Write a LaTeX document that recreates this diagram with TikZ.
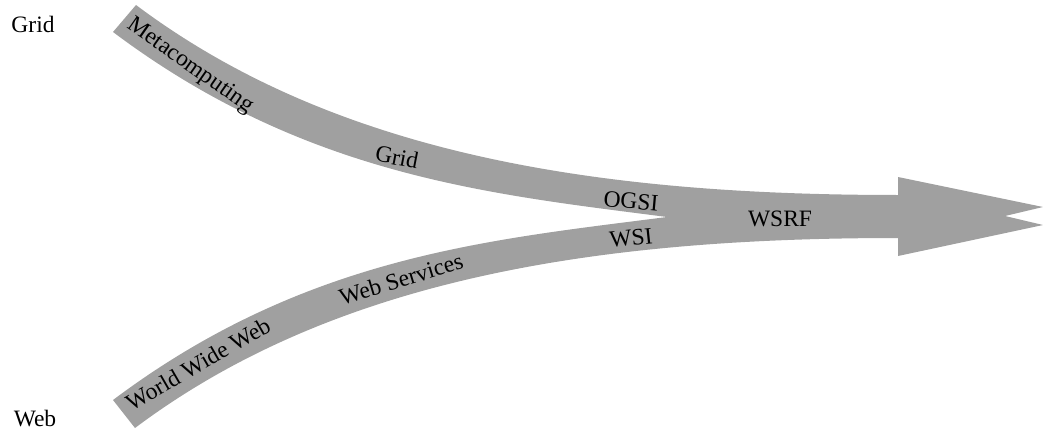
\documentclass[tikz,border=0pt]{standalone}
\usepackage{fontspec}
\setmainfont{Liberation Serif}
\definecolor{bandgray}{RGB}{160,160,160}
\begin{document}
\begin{tikzpicture}[x=1pt,y=-1pt,
  band/.style={fill=bandgray},
  lbl/.style={inner sep=0pt,font=\fontsize{23.5}{28}\selectfont}]
\useasboundingbox (0,0) rectangle (1043,433);
\coordinate (ut0) at (136,5);
\coordinate (ub0) at (113,32);
\coordinate (lt0) at (113,400);
\coordinate (lb0) at (135,428);
\coordinate (notch) at (667,217);
\coordinate (baseT) at (898,195);
\coordinate (baseB) at (898,238);
\fill[band] (ut0) .. controls (336,155) and (598,195) .. (baseT)
  -- (898,177) -- (1043,207) -- (1005,216) -- (1043,225) -- (898,256) -- (baseB)
  .. controls (598,238) and (335,278) .. (lb0)
  -- (lt0)
  .. controls (305,256) and (488,240) .. (notch)
  .. controls (489,194) and (305,176) .. (ub0)
  -- cycle;
\node[lbl] (gridlabel) at (33,24) {Grid};
\node[lbl] (weblabel) at (35,419) {Web};
\node[lbl,rotate=-35] (meta) at (190,66) {Metacomputing};
\node[lbl,rotate=-11] (grid) at (397,157) {Grid};
\node[lbl,rotate=-5] (ogsi) at (631,201) {OGSI};
\node[lbl,rotate=6] (wsi) at (631,238) {WSI};
\node[lbl] (wsrf) at (780,219) {WSRF};
\node[lbl,rotate=17] (ws) at (401,279) {Web Services};
\node[lbl,rotate=30] (www) at (198,364) {World Wide Web};
\end{tikzpicture}
\end{document}
